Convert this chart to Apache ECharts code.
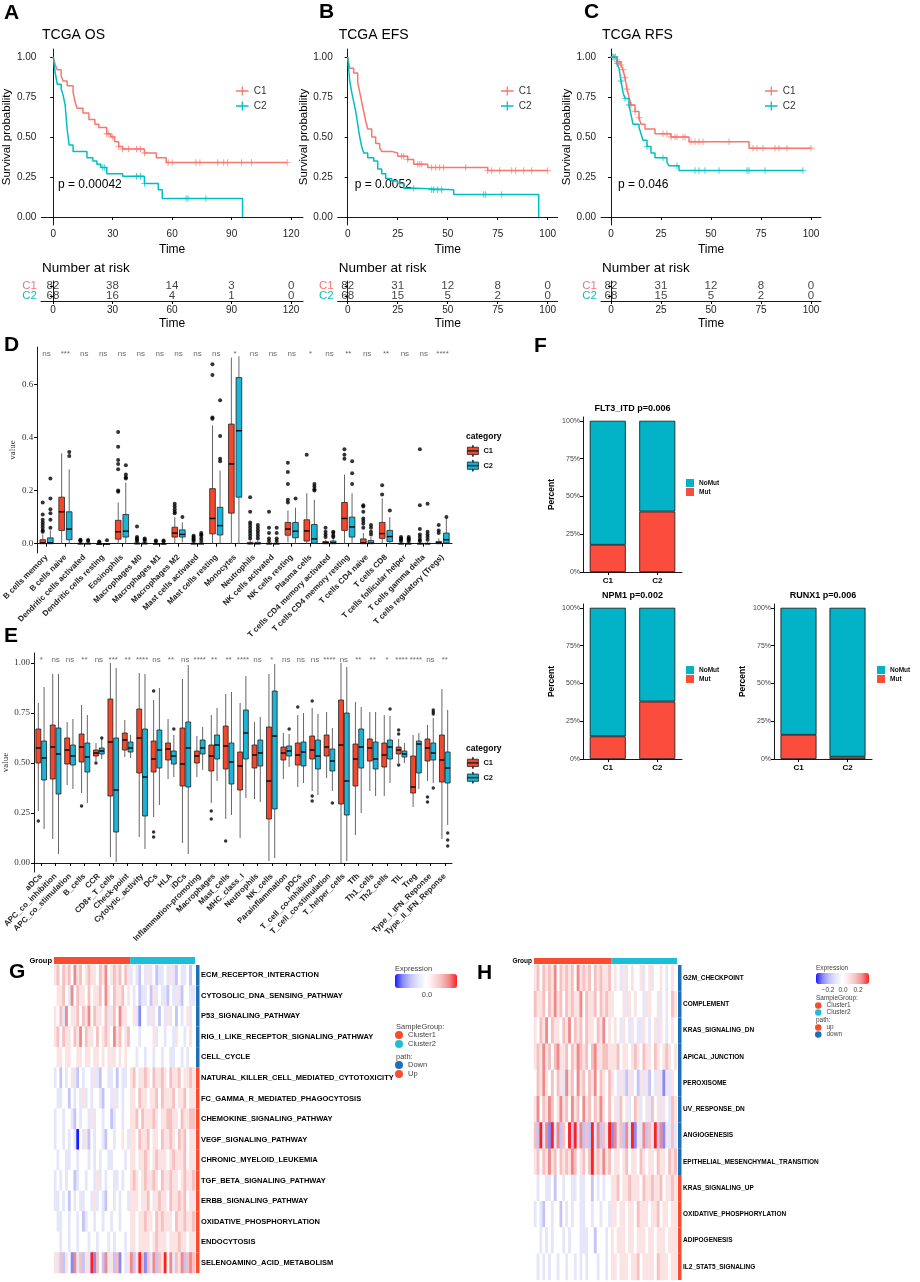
<!DOCTYPE html>
<html>
<head>
<meta charset="utf-8">
<script src="https://cdn.jsdelivr.net/npm/echarts@6/dist/echarts.min.js"></script>
<style>
  html, body { margin: 0; padding: 0; background: #fff; }
  #chart { width: 920px; height: 1282px; }
</style>
</head>
<body>
<div id="chart"></div>
<script>
// ---------- survival curves (months, probability) ----------
const osTime1 = [0, 1, 2, 4, 5, 7, 10, 11, 12, 15, 18, 21, 23, 27, 29, 31, 33, 35, 46, 52, 57, 118];
const osSurv1 = [1, .95, .92, .88, .85, .82, .78, .72, .68, .65, .61, .58, .56, .52, .50, .47, .44, .425, .40, .37, .34, .34];
const osCens1 = [27, 28, 30, 33, 35, 38, 42, 44, 46, 58, 60, 72, 74, 83, 86, 88, 95, 100, 118];
const osTime2 = [0, 1, 2, 4, 5, 6, 7, 8, 10, 17, 20, 22, 24, 27, 35, 46, 53, 55, 95.5];
const osSurv2 = [1, .90, .83, .80, .76, .70, .55, .45, .41, .37, .35, .33, .31, .27, .255, .21, .17, .115, 0];
const osCens2 = [25, 26, 42, 44, 46, 67, 68, 77];

const efsTime1 = [0, 1, 3, 5, 6, 7, 8, 9, 10, 12, 14, 16, 17, 22, 25, 30, 33, 40, 70, 100];
const efsSurv1 = [1, .93, .90, .84, .78, .72, .66, .60, .55, .50, .46, .43, .41, .40, .38, .36, .33, .31, .29, .29];
const efsCens1 = [27, 28, 30, 35, 36, 37, 42, 44, 46, 48, 59, 70, 72, 76, 82, 84, 88, 92, 100];
const efsTime2 = [0, 1, 2, 3, 4, 5, 6, 7, 8, 10, 13, 15, 17, 19, 22, 25, 28, 34, 53, 95.5];
const efsSurv2 = [1, .85, .78, .72, .66, .58, .50, .44, .40, .37, .35, .30, .27, .24, .225, .21, .18, .17, .14, 0];
const efsCens2 = [26, 33, 42, 43, 45, 47, 68, 69, 77];

const rfsTime1 = [0, 3, 5, 6, 7, 8, 9, 10, 12, 14, 15, 17, 22, 30, 39, 69, 100];
const rfsSurv1 = [1, .97, .95, .92, .87, .80, .75, .70, .66, .62, .58, .55, .52, .50, .47, .43, .43];
const rfsCens1 = [1, 2, 3, 4, 5, 6, 7, 8, 10, 12, 14, 26, 28, 30, 32, 33, 36, 37, 40, 42, 44, 46, 59, 71, 73, 76, 82, 84, 88, 100];
const rfsTime2 = [0, 3, 4, 5, 6, 7, 9, 10, 11, 14, 15, 16, 18, 20, 22, 28, 29, 34, 96];
const rfsSurv2 = [1, .96, .93, .85, .78, .74, .70, .64, .58, .56, .52, .48, .44, .40, .37, .34, .32, .29, .29];
const rfsCens2 = [1, 2, 3, 5, 7, 9, 18, 26, 33, 42, 44, 47, 54, 68, 69, 77, 96];

const osRiskTimes = [0, 30, 60, 90, 120];
const osRisk1 = [82, 38, 14, 3, 0];
const osRisk2 = [68, 16, 4, 1, 0];
const efsRiskTimes = [0, 25, 50, 75, 100];
const efsRisk1 = [82, 31, 12, 8, 0];
const efsRisk2 = [68, 15, 5, 2, 0];
const rfsRisk1 = [82, 31, 12, 8, 0];
const rfsRisk2 = [68, 15, 5, 2, 0];

const survTicks = [0, 0.25, 0.5, 0.75, 1];

// ---------- CIBERSORT boxplots (min, q1, median, q3, max) ----------
const dCats = ['B cells memory', 'B cells naive', 'Dendritic cells activated', 'Dendritic cells resting', 'Eosinophils',
  'Macrophages M0', 'Macrophages M1', 'Macrophages M2', 'Mast cells activated', 'Mast cells resting', 'Monocytes',
  'Neutrophils', 'NK cells activated', 'NK cells resting', 'Plasma cells', 'T cells CD4 memory activated',
  'T cells CD4 memory resting', 'T cells CD4 naive', 'T cells CD8', 'T cells follicular helper', 'T cells gamma delta',
  'T cells regulatory (Tregs)'];
const dSig = ['ns', '***', 'ns', 'ns', 'ns', 'ns', 'ns', 'ns', 'ns', 'ns', '*', 'ns', 'ns', 'ns', '*', 'ns', '**', 'ns', '**', 'ns', 'ns', '****'];
const dC1 = [
  [0, 0, 0.003, 0.015, 0.035], [0, 0.05, 0.12, 0.175, 0.34], [0, 0, 0, 0.002, 0.005], [0, 0, 0, 0, 0.002],
  [0, 0.017, 0.045, 0.088, 0.155], [0, 0, 0, 0.003, 0.008], [0, 0, 0, 0.001, 0.004], [0, 0.025, 0.04, 0.062, 0.1],
  [0, 0, 0, 0.002, 0.005], [0, 0.037, 0.095, 0.207, 0.445], [0, 0.115, 0.3, 0.45, 0.7], [0, 0, 0, 0.005, 0.012],
  [0, 0, 0, 0.002, 0.005], [0.005, 0.032, 0.055, 0.08, 0.125], [0, 0.01, 0.048, 0.09, 0.19], [0, 0, 0.003, 0.008, 0.015],
  [0, 0.05, 0.095, 0.155, 0.26], [0, 0, 0.003, 0.018, 0.04], [0, 0.02, 0.038, 0.08, 0.17], [0, 0, 0, 0.002, 0.005],
  [0, 0, 0, 0.002, 0.005], [0, 0, 0.003, 0.008, 0.02]];
const dC2 = [
  [0, 0, 0.003, 0.022, 0.05], [0, 0.015, 0.055, 0.12, 0.28], [0, 0, 0, 0.002, 0.005], [0, 0, 0, 0, 0.002],
  [0, 0.025, 0.047, 0.11, 0.23], [0, 0, 0, 0.003, 0.008], [0, 0, 0, 0.001, 0.004], [0.005, 0.025, 0.035, 0.052, 0.08],
  [0, 0, 0, 0.002, 0.006], [0, 0.033, 0.068, 0.137, 0.275], [0, 0.175, 0.425, 0.625, 0.705], [0, 0, 0, 0.005, 0.012],
  [0, 0, 0, 0.002, 0.005], [0, 0.022, 0.047, 0.08, 0.135], [0, 0.002, 0.018, 0.072, 0.165], [0, 0, 0.003, 0.01, 0.02],
  [0, 0.025, 0.063, 0.1, 0.19], [0, 0, 0.002, 0.012, 0.025], [0, 0.008, 0.027, 0.05, 0.1], [0, 0, 0, 0.002, 0.005],
  [0, 0, 0, 0.002, 0.005], [0, 0.003, 0.015, 0.04, 0.095]];
const dOut1 = [
  [0.155, 0.11, 0.09, 0.08, 0.07, 0.06, 0.05, 0.045], [], [0.015, 0.012, 0.01], [0.008, 0.005],
  [0.42, 0.365, 0.315, 0.3, 0.28, 0.2, 0.195], [0.065, 0.025, 0.02, 0.015, 0.01], [0.012, 0.008],
  [0.15, 0.14, 0.13, 0.12, 0.115], [0.03, 0.025, 0.02, 0.015, 0.01], [0.675, 0.635, 0.475, 0.47], [],
  [0.175, 0.12, 0.08, 0.07, 0.06, 0.05, 0.04, 0.03, 0.02], [0.12, 0.06, 0.04, 0.02, 0.01],
  [0.305, 0.27, 0.225, 0.165, 0.155], [0.335], [0.06, 0.045, 0.035, 0.025], [0.355, 0.335, 0.32],
  [0.145, 0.14, 0.12, 0.095, 0.085, 0.075, 0.06], [0.22, 0.185], [0.025, 0.02, 0.015, 0.01],
  [0.355, 0.145, 0.055, 0.035, 0.025, 0.015, 0.01], [0.07, 0.05, 0.04]];
const dOut2 = [
  [0.245, 0.17, 0.13, 0.115, 0.09, 0.06], [0.345, 0.33], [0.014, 0.01], [0.013], [0.295, 0.26, 0.25, 0.245],
  [0.02, 0.015, 0.01], [0.012, 0.008], [0.1], [0.04, 0.035, 0.03, 0.02, 0.01], [0.54, 0.405, 0.32, 0.31], [],
  [0.07, 0.06, 0.05, 0.04, 0.03, 0.02], [0.06, 0.04, 0.02, 0.01], [0.17], [0.225, 0.215, 0.205, 0.2],
  [0.045, 0.04, 0.03, 0.025], [0.31, 0.265, 0.225], [0.07, 0.06, 0.045, 0.035], [0.125], [0.025, 0.02, 0.015, 0.01],
  [0.15, 0.045, 0.035, 0.025, 0.015], [0.1]];
const dTicks = [0, 0.2, 0.4, 0.6];

// ---------- ssGSEA immune function boxplots ----------
const eCats = ['aDCs', 'APC_co_inhibition', 'APC_co_stimulation', 'B_cells', 'CCR', 'CD8+_T_cells', 'Check-point',
  'Cytolytic_activity', 'DCs', 'HLA', 'iDCs', 'Inflammation-promoting', 'Macrophages', 'Mast_cells', 'MHC_class_I',
  'Neutrophils', 'NK_cells', 'Parainflammation', 'pDCs', 'T_cell_co-inhibition', 'T_cell_co-stimulation',
  'T_helper_cells', 'Tfh', 'Th1_cells', 'Th2_cells', 'TIL', 'Treg', 'Type_I_IFN_Reponse', 'Type_II_IFN_Reponse'];
const eSig = ['*', 'ns', 'ns', '**', 'ns', '***', '**', '****', 'ns', '**', 'ns', '****', '**', '**', '****', 'ns', '*',
  'ns', 'ns', 'ns', '****', 'ns', '**', '**', '*', '****', '****', 'ns', '**'];
const eC1 = [
  [0.26, 0.50, 0.575, 0.67, 0.80], [0.12, 0.42, 0.58, 0.69, 0.945], [0.39, 0.495, 0.565, 0.625, 0.705],
  [0.35, 0.505, 0.58, 0.645, 0.79], [0.51, 0.535, 0.55, 0.565, 0.60], [0.03, 0.335, 0.605, 0.82, 1.0],
  [0.53, 0.565, 0.615, 0.65, 0.715], [0.13, 0.45, 0.625, 0.77, 0.95], [0.23, 0.455, 0.52, 0.61, 0.815],
  [0.42, 0.515, 0.57, 0.60, 0.72], [0.10, 0.385, 0.495, 0.675, 0.92], [0.43, 0.50, 0.535, 0.56, 0.635],
  [0.30, 0.46, 0.535, 0.59, 0.74], [0.22, 0.47, 0.585, 0.685, 0.845], [0.125, 0.365, 0.485, 0.555, 0.80],
  [0.32, 0.475, 0.54, 0.59, 0.705], [0.01, 0.22, 0.41, 0.68, 0.945], [0.42, 0.515, 0.55, 0.58, 0.65],
  [0.38, 0.49, 0.54, 0.60, 0.74], [0.36, 0.52, 0.565, 0.635, 0.775], [0.425, 0.535, 0.58, 0.64, 0.755],
  [0.0, 0.295, 0.59, 0.815, 1.0], [0.14, 0.385, 0.52, 0.595, 0.805], [0.36, 0.51, 0.575, 0.62, 0.755],
  [0.335, 0.48, 0.54, 0.60, 0.74], [0.50, 0.545, 0.565, 0.58, 0.62], [0.28, 0.35, 0.38, 0.535, 0.64],
  [0.41, 0.51, 0.575, 0.62, 0.69], [0.12, 0.405, 0.515, 0.64, 0.87]];
const eC2 = [
  [0.17, 0.415, 0.525, 0.61, 0.88], [0.045, 0.345, 0.545, 0.675, 0.945], [0.37, 0.49, 0.535, 0.59, 0.72],
  [0.30, 0.455, 0.53, 0.60, 0.74], [0.52, 0.545, 0.56, 0.575, 0.62], [0.005, 0.155, 0.365, 0.625, 0.975],
  [0.525, 0.555, 0.575, 0.605, 0.64], [0.07, 0.235, 0.43, 0.67, 0.945], [0.29, 0.475, 0.565, 0.665, 0.875],
  [0.43, 0.495, 0.535, 0.56, 0.64], [0.045, 0.38, 0.575, 0.705, 0.99], [0.465, 0.545, 0.575, 0.615, 0.68],
  [0.41, 0.52, 0.59, 0.64, 0.775], [0.24, 0.395, 0.505, 0.60, 0.855], [0.325, 0.52, 0.65, 0.765, 0.935],
  [0.305, 0.485, 0.55, 0.615, 0.73], [0.025, 0.27, 0.635, 0.86, 0.995], [0.48, 0.535, 0.56, 0.585, 0.645],
  [0.40, 0.485, 0.555, 0.605, 0.75], [0.34, 0.47, 0.535, 0.615, 0.745], [0.36, 0.46, 0.51, 0.57, 0.675],
  [0.01, 0.24, 0.41, 0.75, 0.98], [0.25, 0.475, 0.58, 0.67, 0.78], [0.335, 0.47, 0.52, 0.605, 0.755],
  [0.40, 0.52, 0.58, 0.615, 0.735], [0.50, 0.53, 0.545, 0.56, 0.60], [0.37, 0.45, 0.595, 0.61, 0.65],
  [0.40, 0.515, 0.55, 0.60, 0.725], [0.19, 0.40, 0.475, 0.555, 0.765]];
const eOut1 = [[0.21], [], [], [0.285], [0.50], [], [], [], [0.86, 0.155, 0.13], [], [], [], [0.26, 0.22], [0.11], [], [],
  [], [], [0.78], [0.81, 0.335, 0.31], [], [], [], [], [], [0.665, 0.645, 0.49], [], [0.33, 0.305], []];
const eOut2 = [[], [], [], [], [0.625], [], [], [], [], [0.67], [], [], [], [], [], [], [], [0.67], [], [], [0.30], [], [],
  [], [0.77], [], [], [0.765, 0.755, 0.745, 0.375], [0.15, 0.115, 0.085]];
const eTicks = [0, 0.25, 0.5, 0.75, 1];

// ---------- mutation percentages ----------
const mutGroups = ['C1', 'C2'];
const flt3Mut = [18, 40], flt3NoMut = [82, 60];
const npm1Mut = [15, 38], npm1NoMut = [85, 62];
const runx1Mut = [16, 1.5], runx1NoMut = [84, 98.5];
const pctTicks = [0, 25, 50, 75, 100];

// ---------- heatmaps: one digit per sample bin, 4 = 0, 0 = most blue, 8 = most red ----------
const gRows = ['ECM_RECEPTOR_INTERACTION', 'CYTOSOLIC_DNA_SENSING_PATHWAY', 'P53_SIGNALING_PATHWAY',
  'RIG_I_LIKE_RECEPTOR_SIGNALING_PATHWAY', 'CELL_CYCLE', 'NATURAL_KILLER_CELL_MEDIATED_CYTOTOXICITY',
  'FC_GAMMA_R_MEDIATED_PHAGOCYTOSIS', 'CHEMOKINE_SIGNALING_PATHWAY', 'VEGF_SIGNALING_PATHWAY',
  'CHRONIC_MYELOID_LEUKEMIA', 'TGF_BETA_SIGNALING_PATHWAY', 'ERBB_SIGNALING_PATHWAY', 'OXIDATIVE_PHOSPHORYLATION',
  'ENDOCYTOSIS', 'SELENOAMINO_ACID_METABOLISM'];
const gPath = ['Down', 'Down', 'Down', 'Down', 'Down', 'Up', 'Up', 'Up', 'Up', 'Up', 'Up', 'Up', 'Up', 'Up', 'Up'];
const gCells = [
  ['56465 64756 45655 46574 56564 65', '34324 35342 33435 32433 424'],
  ['45564 37465 54645 56475 46556 45', '43423 34253 43324 35324 433'],
  ['54637 45564 65746 55463 56475 54', '45314 43534 24353 42434 534'],
  ['56465 54657 46554 64565 47564 56', '44434 44453 44344 35443 454'],
  ['45545 54455 45545 54545 55454 54', '44344 34434 43443 34434 344'],
  ['34243 45324 34435 32443 34243 34', '56455 65465 56546 55645 565'],
  ['43344 24343 53434 43244 35343 44', '55465 54556 46555 64556 455'],
  ['34434 43243 44353 44344 23443 44', '55646 55565 45566 55465 566'],
  ['34434 34304 35243 44324 43445 43', '55465 56455 46556 54656 455'],
  ['43443 34434 44343 43443 34444 34', '55455 65456 55545 65556 455'],
  ['34343 44234 43443 53434 43343 44', '56545 65565 46556 55456 556'],
  ['33434 24343 34435 34324 43434 43', '55545 56455 65546 55656 455'],
  ['43344 34434 23443 44344 34434 44', '55455 65546 56555 46556 556'],
  ['44344 34434 44344 34443 43444 34', '55455 55456 55545 55655 455'],
  ['53625 41736 25381 64273 52614 35', '72586 16372 65847 36572 676']];

const hRows = ['G2M_CHECKPOINT', 'COMPLEMENT', 'KRAS_SIGNALING_DN', 'APICAL_JUNCTION', 'PEROXISOME', 'UV_RESPONSE_DN',
  'ANGIOGENESIS', 'EPITHELIAL_MESENCHYMAL_TRANSITION', 'KRAS_SIGNALING_UP', 'OXIDATIVE_PHOSPHORYLATION',
  'ADIPOGENESIS', 'IL2_STAT5_SIGNALING'];
const hPath = ['down', 'down', 'down', 'down', 'down', 'down', 'down', 'down', 'up', 'up', 'up', 'up'];
const hCells = [
  ['56465 65746 56564 75656 46565 56', '45435 34544 53453 44543 454'],
  ['65564 65756 46565 57465 56465 65', '54445 35454 43554 45345 465'],
  ['54657 46554 65746 56465 54657 45', '45435 43543 35434 53543 454'],
  ['56575 64675 56465 76564 67556 65', '55645 54565 46554 65456 545'],
  ['46575 46465 37564 75646 57465 46', '54353 25342 53524 35315 354'],
  ['57465 76457 56475 64756 46575 46', '45364 53465 34536 45354 365'],
  ['62837 18372 64828 37262 83726 38', '17362 73815 37263 82715 363'],
  ['56465 75646 56576 45646 85657 56', '45545 64554 65455 46554 656'],
  ['43443 34244 34433 43344 24343 44', '55645 56555 46556 55645 565'],
  ['34324 43442 43434 43344 34434 43', '55455 45546 55545 56455 455'],
  ['44343 43444 34344 43334 42444 34', '54555 45545 55455 45554 555'],
  ['43434 34434 43443 43434 44344 34', '55455 54556 45555 46555 455']];

// ---------- colours ----------
const KM_RED = '#F8766D', KM_CYAN = '#00BFC4';
const BOX_RED = '#F4472B', BOX_CYAN = '#1AB4D7';
const BAR_RED = '#FB4D3E', BAR_CYAN = '#02B2C7';
const ANN_RED = '#FB4B2E', ANN_CYAN = '#1BBFD9', PATH_BLUE = '#1C71B6';
const HEAT_COLORS = ['#1a1aff', '#8a8af5', '#c4c4f8', '#e6e6fb', '#ffffff', '#fbe3e3', '#f7bfbf', '#f08a8a', '#ff2020'];
const SANS = 'Liberation Sans, Arial, sans-serif';
const SERIF = 'Liberation Serif, Times New Roman, serif';

const grid = [], xAxis = [], yAxis = [], series = [], legend = [], graphic = [], visualMap = [];

function addGrid(g, xa, ya) {
  grid.push(g);
  const gi = grid.length - 1;
  xAxis.push(Object.assign({ gridIndex: gi }, xa));
  yAxis.push(Object.assign({ gridIndex: gi }, ya));
  return gi;
}

function txt(x, y, text, style) {
  graphic.push({
    type: 'text', x, y, silent: true,
    style: Object.assign({ text, fill: '#000', font: '12px ' + SANS, textVerticalAlign: 'middle' }, style)
  });
}

const blackLine = { show: true, lineStyle: { color: '#000', width: 0.9 } };

function survAt(t, times, surv) {
  let s = surv[0];
  for (let k = 0; k < times.length; k++) {
    if (times[k] <= t) s = surv[k];
  }
  return s;
}

const PLUS = 'path://M4.3,0h1.4v10h-1.4z M0,4.3h10v1.4h-10z';
const KM_ICON = 'path://M0,4.3h14v1.4h-14z M6.3,0h1.4v10h-1.4z';

function kmPanel(p) {
  const xBase = {
    type: 'value', min: p.min, max: p.max, splitLine: { show: false },
    axisLine: blackLine,
    axisTick: { show: true, customValues: p.ticks, length: 3, lineStyle: { color: '#000' } },
    axisLabel: { customValues: p.ticks, fontSize: 10, color: '#222', margin: 4, fontFamily: SANS },
    name: 'Time', nameLocation: 'middle', nameTextStyle: { fontSize: 12, color: '#000', fontFamily: SANS }
  };
  const gi = addGrid({ left: p.left, top: 49, width: p.width, height: 176 },
    Object.assign({}, xBase, { nameGap: 19 }),
    {
      type: 'value', min: -0.05, max: 1.05, splitLine: { show: false },
      axisLine: blackLine,
      axisTick: { show: true, customValues: survTicks, length: 3, lineStyle: { color: '#000' } },
      axisLabel: { customValues: survTicks, formatter: v => v.toFixed(2), fontSize: 10, color: '#222', margin: 5, fontFamily: SANS },
      name: 'Survival probability', nameLocation: 'middle', nameGap: 28,
      nameTextStyle: { fontSize: 11.5, color: '#000', fontFamily: SANS }
    });
  [[p.t1, p.s1, p.c1, KM_RED, 'C1'], [p.t2, p.s2, p.c2, KM_CYAN, 'C2']].forEach(([t, s, c, color, name]) => {
    series.push({
      type: 'line', name, color, xAxisIndex: gi, yAxisIndex: gi, step: 'end', symbol: 'none',
      lineStyle: { width: 1.5, color }, data: t.map((v, k) => [v, s[k]]), z: 2
    });
    series.push({
      type: 'scatter', name: 'censor', xAxisIndex: gi, yAxisIndex: gi, symbol: PLUS, symbolSize: 6.5,
      itemStyle: { color }, data: c.map(v => [v, survAt(v, t, s)]), z: 3
    });
  });
  legend.push({
    left: p.legendLeft, top: 86, padding: 0, orient: 'vertical', data: ['C1', 'C2'], icon: KM_ICON,
    itemWidth: 13, itemHeight: 9, itemGap: 5, selectedMode: false,
    textStyle: { fontSize: 10, color: '#333', fontFamily: SANS }
  });

  const ri = addGrid({ left: p.left, top: 281, width: p.width, height: 20 },
    Object.assign({}, xBase, { nameGap: 17 }),
    {
      type: 'category', data: ['C1', 'C2'], inverse: true,
      axisLine: blackLine, axisTick: { show: true, alignWithLabel: true, length: 3, lineStyle: { color: '#000' } },
      axisLabel: { interval: 0, fontSize: 11.5, margin: 4, fontFamily: SANS, color: v => (v === 'C1' ? KM_RED : KM_CYAN) }
    });
  [[p.r1, 'C1'], [p.r2, 'C2']].forEach(([r, cat]) => {
    series.push({
      type: 'scatter', name: 'risk', xAxisIndex: ri, yAxisIndex: ri, symbolSize: 0, silent: true,
      data: p.rt.map(t => [t, cat]),
      label: { show: true, position: 'inside', formatter: q => String(r[q.dataIndex]), fontSize: 11.5, color: '#111', fontFamily: SANS }
    });
  });

  txt(p.left + 1, 35, p.title, { font: '14px ' + SANS });
  txt(p.left + 17, 185, p.pval, { font: '12px ' + SANS });
  txt(p.left + 1, 268, 'Number at risk', { font: '13.5px ' + SANS });
}

kmPanel({ left: 41, width: 262, min: -6, max: 126, ticks: osRiskTimes, title: 'TCGA OS', pval: 'p = 0.00042',
  t1: osTime1, s1: osSurv1, c1: osCens1, t2: osTime2, s2: osSurv2, c2: osCens2,
  rt: osRiskTimes, r1: osRisk1, r2: osRisk2, legendLeft: 236 });
kmPanel({ left: 337.7, width: 220, min: -5, max: 105, ticks: efsRiskTimes, title: 'TCGA EFS', pval: 'p = 0.0052',
  t1: efsTime1, s1: efsSurv1, c1: efsCens1, t2: efsTime2, s2: efsSurv2, c2: efsCens2,
  rt: efsRiskTimes, r1: efsRisk1, r2: efsRisk2, legendLeft: 501 });
kmPanel({ left: 601, width: 220, min: -5, max: 105, ticks: efsRiskTimes, title: 'TCGA RFS', pval: 'p = 0.046',
  t1: rfsTime1, s1: rfsSurv1, c1: rfsCens1, t2: rfsTime2, s2: rfsSurv2, c2: rfsCens2,
  rt: efsRiskTimes, r1: rfsRisk1, r2: rfsRisk2, legendLeft: 765 });

// ---------- boxplot panels ----------
function boxItem(side, wf, of, fill) {
  return function (params, api) {
    const i = api.value(0);
    const band = api.size([1, 0])[0];
    const cx = api.coord([i, 0])[0] + side * band * of;
    const w = band * wf;
    const y = k => api.coord([i, api.value(k)])[1];
    const yMin = y(1), yQ1 = y(2), yMed = y(3), yQ3 = y(4), yMax = y(5);
    const whisk = { stroke: '#555', lineWidth: 0.9 };
    return {
      type: 'group',
      children: [
        { type: 'line', shape: { x1: cx, y1: yMax, x2: cx, y2: yQ3 }, style: whisk },
        { type: 'line', shape: { x1: cx, y1: yQ1, x2: cx, y2: yMin }, style: whisk },
        { type: 'rect', shape: { x: cx - w / 2, y: yQ3, width: w, height: Math.max(yQ1 - yQ3, 0.8) },
          style: { fill, stroke: '#222', lineWidth: 0.8 } },
        { type: 'line', shape: { x1: cx - w / 2, y1: yMed, x2: cx + w / 2, y2: yMed }, style: { stroke: '#000', lineWidth: 1.4 } }
      ]
    };
  };
}

const BOX_ICON = 'path://M0,2h12v8h-12z M0,5.6h12v0.8h-12z M5.6,0h0.8v2h-0.8z M5.6,10h0.8v2h-0.8z';

function boxPanel(cats, c1, c2, o1, o2, sig, cfg) {
  const gi = addGrid({ left: cfg.left, top: cfg.top, width: cfg.width, height: cfg.height },
    {
      type: 'category', data: cats, axisLine: blackLine,
      axisTick: { show: true, alignWithLabel: true, length: 3, lineStyle: { color: '#000' } },
      axisLabel: { rotate: 45, interval: 0, fontSize: 8, fontWeight: 'bold', color: '#222', margin: 3, fontFamily: SANS }
    },
    {
      type: 'value', min: cfg.min, max: cfg.max, splitLine: { show: false }, axisLine: blackLine,
      axisTick: { show: true, customValues: cfg.ticks, length: 3, lineStyle: { color: '#000' } },
      axisLabel: { customValues: cfg.ticks, formatter: cfg.fmt, fontSize: 9, color: '#333', margin: 4, fontFamily: SERIF },
      name: 'value', nameLocation: 'middle', nameGap: cfg.nameGap,
      nameTextStyle: { fontSize: 9, color: '#333', fontFamily: SERIF }
    });
  const band = cfg.width / cats.length;
  [[c1, o1, -1, BOX_RED, 'boxC1'], [c2, o2, 1, BOX_CYAN, 'boxC2']].forEach(([stats, outs, side, color, name]) => {
    series.push({
      type: 'custom', name, xAxisIndex: gi, yAxisIndex: gi,
      itemStyle: { color, borderColor: '#222', borderWidth: 0.8 },
      renderItem: boxItem(side, cfg.wf, cfg.of, color),
      encode: { x: 0, y: [1, 2, 3, 4, 5] },
      data: stats.map((s, i) => [i].concat(s)), z: 2
    });
    const pts = [];
    outs.forEach((arr, i) => arr.forEach(v => pts.push([i, v])));
    series.push({
      type: 'scatter', name: 'outlier', xAxisIndex: gi, yAxisIndex: gi, symbolSize: cfg.dot,
      symbolOffset: [side * band * cfg.of, 0], itemStyle: { color: '#000' }, data: pts, z: 3
    });
  });
  series.push({
    type: 'scatter', name: 'sig', xAxisIndex: gi, yAxisIndex: gi, symbolSize: 0, silent: true,
    data: sig.map((s, i) => [i, cfg.sigY]),
    label: { show: true, position: 'inside', formatter: q => sig[q.dataIndex], fontSize: 8, color: '#444', fontFamily: SANS }
  });
  legend.push({
    left: 467, top: cfg.legendTop, padding: 0, orient: 'vertical', data: ['boxC1', 'boxC2'], icon: BOX_ICON,
    formatter: n => n.replace('box', ''), itemWidth: 11, itemHeight: 11, itemGap: 3, selectedMode: false,
    itemStyle: { borderColor: '#222', borderWidth: 0.8 },
    textStyle: { fontSize: 7.5, fontWeight: 'bold', color: '#111', fontFamily: SANS }
  });
  txt(466, cfg.legendTop - 8, 'category', { font: 'bold 8.5px ' + SANS });
}

boxPanel(dCats, dC1, dC2, dOut1, dOut2, dSig, {
  left: 28, top: 347, width: 424, height: 206, min: -0.035, max: 0.74, ticks: dTicks,
  fmt: v => v.toFixed(1), wf: 0.3, of: 0.2, dot: 4, sigY: 0.716, nameGap: 20, legendTop: 445
});
boxPanel(eCats, eC1, eC2, eOut1, eOut2, eSig, {
  left: 31, top: 653, width: 421, height: 219, min: -0.045, max: 1.05, ticks: eTicks,
  fmt: v => v.toFixed(2), wf: 0.34, of: 0.2, dot: 3.5, sigY: 1.017, nameGap: 24, legendTop: 757
});

// ---------- mutation bar panels ----------
function mutPanel(left, top, width, mut, noMut, title, legendLeft, legendTop) {
  const gi = addGrid({ left, top, width, height: 155 },
    {
      type: 'category', data: mutGroups, axisLine: blackLine,
      axisTick: { show: true, alignWithLabel: true, length: 3, lineStyle: { color: '#000' } },
      axisLabel: { fontSize: 8, fontWeight: 'bold', color: '#000', margin: 5, fontFamily: SANS }
    },
    {
      type: 'value', min: 0, max: 102.5, splitLine: { show: false }, axisLine: blackLine,
      axisTick: { show: true, customValues: pctTicks, length: 3, lineStyle: { color: '#000' } },
      axisLabel: { customValues: pctTicks, formatter: v => v + '%', fontSize: 7, color: '#444', margin: 3, fontFamily: SANS },
      name: 'Percent', nameLocation: 'middle', nameGap: 27,
      nameTextStyle: { fontSize: 8.5, fontWeight: 'bold', color: '#000', fontFamily: SANS }
    });
  series.push({
    type: 'bar', name: 'Mut', xAxisIndex: gi, yAxisIndex: gi, stack: 'mut' + gi, data: mut, barWidth: 36,
    itemStyle: { color: BAR_RED, borderColor: '#111', borderWidth: 0.8 }
  });
  series.push({
    type: 'bar', name: 'NoMut', xAxisIndex: gi, yAxisIndex: gi, stack: 'mut' + gi, data: noMut, barWidth: 36,
    itemStyle: { color: BAR_CYAN, borderColor: '#111', borderWidth: 0.8 }
  });
  legend.push({
    left: legendLeft, top: legendTop, padding: 0, orient: 'vertical', data: ['NoMut', 'Mut'], icon: 'rect',
    itemWidth: 8, itemHeight: 8, itemGap: 1, selectedMode: false, itemStyle: { borderWidth: 0 },
    textStyle: { fontSize: 6.5, fontWeight: 'bold', color: '#111', fontFamily: SANS }
  });
  txt(left + width / 2, top - 8, title, { font: 'bold 9px ' + SANS, textAlign: 'center' });
}

mutPanel(583, 417, 99, flt3Mut, flt3NoMut, 'FLT3_ITD p=0.006', 686, 479);
mutPanel(583, 604, 99, npm1Mut, npm1NoMut, 'NPM1 p=0.002', 686, 666);
mutPanel(774, 604, 98, runx1Mut, runx1NoMut, 'RUNX1 p=0.006', 877, 666);

// ---------- heatmap panels ----------
const strip = s => s.replace(/\s+/g, '');

function heatPanel(rows, path, cells, pathNames, cfg) {
  const n1 = strip(cells[0][0]).length;
  const n2 = strip(cells[0][1]).length;
  const cols = [];
  for (let c = 0; c < n1 + n2; c++) cols.push(c);

  const gg = addGrid({ left: cfg.left, top: cfg.groupTop, width: cfg.width, height: cfg.groupH },
    { type: 'value', min: 0, max: n1 + n2, show: false },
    {
      type: 'category', data: ['Group'], axisLine: { show: false }, axisTick: { show: false },
      axisLabel: { fontSize: cfg.fs, fontWeight: 'bold', color: '#000', margin: 2, fontFamily: SANS }
    });
  [['Cluster1', n1, ANN_RED], ['Cluster2', n2, ANN_CYAN]].forEach(([name, n, color]) => {
    series.push({
      type: 'bar', name, xAxisIndex: gg, yAxisIndex: gg, stack: 'grp' + gg, barWidth: '100%',
      data: [n], itemStyle: { color }, silent: true
    });
  });

  const hg = addGrid({ left: cfg.left, top: cfg.top, width: cfg.width, height: cfg.height },
    { type: 'category', data: cols, show: false },
    { type: 'category', data: rows, inverse: true, show: false });
  const data = [];
  cells.forEach((pair, r) => {
    const s = strip(pair[0]) + strip(pair[1]);
    for (let c = 0; c < s.length; c++) data.push([c, r, (Number(s[c]) - 4) * cfg.step]);
  });
  series.push({ type: 'heatmap', name: 'expr', xAxisIndex: hg, yAxisIndex: hg, data, silent: true });
  visualMap.push({
    type: 'continuous', seriesIndex: series.length - 1, dimension: 2, min: -4 * cfg.step, max: 4 * cfg.step,
    inRange: { color: HEAT_COLORS }, orient: 'horizontal', left: cfg.vmLeft, top: cfg.vmTop,
    itemWidth: cfg.vmThick, itemHeight: cfg.vmLen, calculable: false, hoverLink: false, padding: 0,
    textStyle: { fontSize: 1, color: 'rgba(0,0,0,0)' }
  });

  const pg = addGrid({ left: cfg.pathLeft, top: cfg.top, width: cfg.pathW, height: cfg.height },
    { type: 'value', min: 0, max: 1, show: false },
    {
      type: 'category', data: rows, inverse: true, position: 'right', axisLine: { show: false }, axisTick: { show: false },
      axisLabel: { interval: 0, fontSize: cfg.fs, fontWeight: 'bold', color: '#000', margin: 1.5, fontFamily: SANS }
    });
  pathNames.forEach(([name, color]) => {
    series.push({
      type: 'bar', name, xAxisIndex: pg, yAxisIndex: pg, barGap: '-100%', barCategoryGap: '0%',
      data: path.map(p => (p === name ? 1 : '-')), itemStyle: { color }, silent: true
    });
  });

  const lg = {
    left: cfg.lgLeft, padding: 0, orient: 'vertical', icon: 'circle',
    itemWidth: cfg.dotSize, itemHeight: cfg.dotSize, itemGap: cfg.lgGap, selectedMode: false, itemStyle: { borderWidth: 0 },
    textStyle: { fontSize: cfg.lgFs, color: '#444', fontFamily: SANS, lineHeight: cfg.lgLine }
  };
  legend.push(Object.assign({}, lg, { top: cfg.lgTop1, data: ['Cluster1', 'Cluster2'] }));
  legend.push(Object.assign({}, lg, { top: cfg.lgTop2, data: pathNames.map(p => p[0]) }));
  txt(cfg.vmLeft, cfg.vmTop - 5, 'Expression', { font: cfg.lgFs + 'px ' + SANS, fill: '#444' });
  txt(cfg.lgLeft + 1, cfg.lgTop1 - 4, 'SampleGroup:', { font: cfg.lgFs + 'px ' + SANS, fill: '#444' });
  txt(cfg.lgLeft + 1, cfg.lgTop2 - 4, 'path:', { font: cfg.lgFs + 'px ' + SANS, fill: '#444' });
}

heatPanel(gRows, gPath, gCells, [['Down', PATH_BLUE], ['Up', ANN_RED]], {
  left: 54, width: 141, top: 965, height: 308, groupTop: 957, groupH: 7, pathLeft: 196, pathW: 3.5,
  fs: 7.5, step: 0.25, vmLeft: 395, vmTop: 974, vmThick: 14, vmLen: 62,
  lgLeft: 395, lgTop1: 1031, lgTop2: 1061, dotSize: 8, lgGap: 1, lgFs: 7.5, lgLine: 8
});
heatPanel(hRows, hPath, hCells, [['up', ANN_RED], ['down', PATH_BLUE]], {
  left: 534, width: 143, top: 965, height: 315, groupTop: 958, groupH: 6, pathLeft: 678, pathW: 3.5,
  fs: 6.5, step: 0.075, vmLeft: 816, vmTop: 973, vmThick: 11, vmLen: 53,
  lgLeft: 815, lgTop1: 1002, lgTop2: 1024, dotSize: 6.5, lgGap: 0, lgFs: 6.5, lgLine: 7
});
txt(427, 995, '0.0', { font: '7.5px ' + SANS, fill: '#444', textAlign: 'center' });
txt(828, 990, '\u22120.2', { font: '6.5px ' + SANS, fill: '#444', textAlign: 'center' });
txt(843, 990, '0.0', { font: '6.5px ' + SANS, fill: '#444', textAlign: 'center' });
txt(858, 990, '0.2', { font: '6.5px ' + SANS, fill: '#444', textAlign: 'center' });

// ---------- panel letters ----------
[['A', 4, 13], ['B', 319, 12], ['C', 584, 12], ['D', 4, 345], ['E', 4, 636], ['F', 534, 346], ['G', 9, 972], ['H', 477, 973]]
  .forEach(([l, x, y]) => txt(x, y, l, { font: 'bold 21px ' + SANS }));

const chart = echarts.init(document.getElementById('chart'), null, { renderer: 'canvas' });
chart.setOption({
  animation: false,
  backgroundColor: '#fff',
  textStyle: { fontFamily: SANS },
  grid, xAxis, yAxis, series, legend, visualMap, graphic
});
</script>
</body>
</html>
